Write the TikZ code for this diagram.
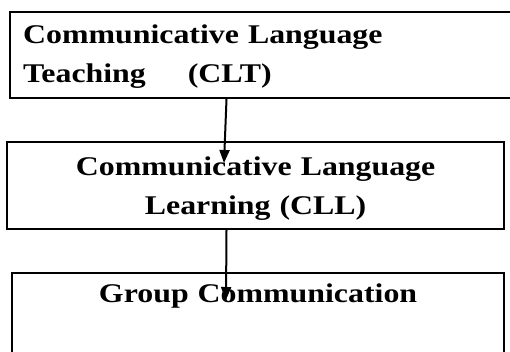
\documentclass[tikz,border=0pt]{standalone}
\usepackage{fontspec}
\usetikzlibrary{arrows.meta}
\newfontfamily\clfont{Liberation Serif}[FakeStretch=1.18]

\tikzset{
  stage/.style={draw, line width=2.2pt, anchor=north west, inner ysep=0pt,
    font=\clfont\bfseries\fontsize{27}{39}\selectfont},
  flow/.style={line width=2pt, -{Triangle[length=13pt,width=10pt]}}
}

\begin{document}
\begin{tikzpicture}[x=1pt,y=-1pt]
    \useasboundingbox (0,0) rectangle (510,351);
    \node[stage, inner xsep=13.5pt, text width=484pt, align=left,
      text height=31pt, text depth=55pt] (clt) at (8.5,11)
      {\fontsize{27}{40}\selectfont Communicative Language\\
       Teaching\hspace{42pt}(CLT)};
    \node[stage, inner xsep=0pt, text width=497pt, align=center,
      text height=33pt, text depth=54pt] (cll) at (6,141)
      {\fontsize{27}{38}\selectfont Communicative Language\\ Learning (CLL)};
    \node[stage, inner xsep=0pt, text width=492pt, align=center,
      text height=29pt, text depth=100pt] (group) at (11,272)
      {Group Communication};
    % arrows between the stages
    \coordinate (clt-out) at (226.5,99);
    \coordinate (cll-in) at (224,163);
    \coordinate (cll-out) at (226.5,230);
    \coordinate (group-in) at (226,300);
    \draw[flow] (clt-out) -- (cll-in);
    \draw[flow] (cll-out) -- (group-in);
  \end{tikzpicture}
\end{document}
